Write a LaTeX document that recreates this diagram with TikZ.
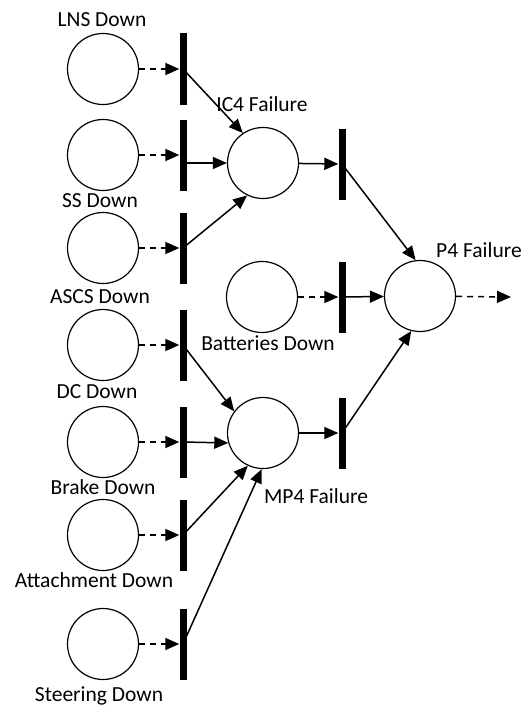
\documentclass[tikz,border=0pt]{standalone}
\usepackage{fontspec}
\setmainfont{Carlito}
\usetikzlibrary{arrows.meta}
\begin{document}
\begin{tikzpicture}[x=1pt,y=-1pt,
  place/.style={circle,draw,line width=1.2pt,minimum size=71pt,inner sep=0pt},
  trans/.style={rectangle,fill=black,minimum width=7pt,minimum height=71pt,inner sep=0pt},
  arc/.style={line width=1.5pt,-{Triangle[length=14pt,width=12pt]}},
  dasharc/.style={arc,dash pattern=on 6pt off 5pt},
  lbl/.style={font=\fontsize{21.5}{26}\selectfont,inner sep=0pt,anchor=base}]
\useasboundingbox (0,0) rectangle (529,709);
% left places and transitions
\foreach \n/\y in {1/69,2/155,3/248,4/345,5/442,6/535,7/644}{
  \node[place] (c\n) at (103,\y) {};
  \node[trans] (t\n) at (183,\y) {};
  \draw[dasharc] (c\n) -- (t\n);
}
\node[place] (ic4) at (263,163) {};
\node[trans] (tic4) at (342,164) {};
\node[place] (bat) at (262,297) {};
\node[trans] (tbat) at (342,297) {};
\node[place] (p4) at (420,296) {};
\node[place] (mp4) at (263,433) {};
\node[trans] (tmp4) at (342,433) {};
\coordinate (out) at (511,297);
% labels
\node[lbl] (l1) at (102,27) {LNS Down};
\node[lbl] (l2) at (100,207) {SS Down};
\node[lbl] (l3) at (100,303) {ASCS Down};
\node[lbl] (l4) at (97,398) {DC Down};
\node[lbl] (l5) at (103,494) {Brake Down};
\node[lbl] (l6) at (94,587) {Attachment Down};
\node[lbl] (l7) at (99,701) {Steering Down};
\node[lbl] (lic4) at (262,111) {IC4 Failure};
\node[lbl] (lbat) at (268,350) {Batteries Down};
\node[lbl] (lp4) at (479,257) {P4 Failure};
\node[lbl] (lmp4) at (316,503) {MP4 Failure};
% arcs
\draw[arc] (t1) -- (ic4.124);
\draw[arc] (t2.east |- ic4) -- (ic4);
\draw[arc] (t3) -- (ic4.244);
\draw[arc] (ic4) -- (tic4);
\draw[arc] (tic4) -- (p4.97);
\draw[dasharc] (bat) -- (tbat);
\draw[arc] (tbat) -- (p4);
\draw[arc] (t4) -- (mp4.143);
\draw[arc] (t5) -- (mp4.196);
\draw[arc] (t6) -- (mp4.245);
\draw[arc] (t7) -- (mp4.268);
\draw[arc] (mp4) -- (tmp4);
\draw[arc] (tmp4) -- (p4.256);
\draw[dasharc] (p4) -- (out);
\end{tikzpicture}
\end{document}
